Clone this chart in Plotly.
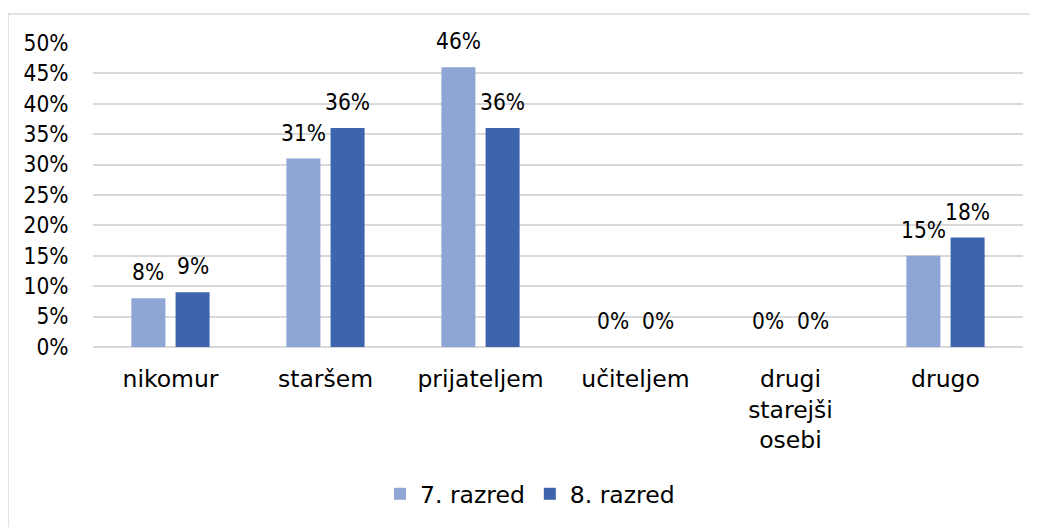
import plotly.graph_objects as go

categories = ["nikomur", "staršem", "prijateljem", "učiteljem", "drugi<br>starejši<br>osebi", "drugo"]
series_names = ["7. razred", "8. razred"]
values_7 = [0.08, 0.31, 0.46, 0.00, 0.00, 0.15]
values_8 = [0.09, 0.36, 0.36, 0.00, 0.00, 0.18]
y_ticks = [0, 0.05, 0.10, 0.15, 0.20, 0.25, 0.30, 0.35, 0.40, 0.45, 0.50]
y_ticklabels = ["0%", "5%", "10%", "15%", "20%", "25%", "30%", "35%", "40%", "45%", "50%"]

colors = ["#8FA5D5", "#3D64AD"]
TXT_FONT = "DejaVu Sans, Verdana, sans-serif"
NUM_FONT = "DejaVu Sans Condensed, DejaVu Sans, sans-serif"

# page has an 8px body margin: figure origin sits at (8, 8) in the window
OFF = 8
W, H = 1038 - OFF, 527 - OFF
ML, MT = 93 - OFF, 43 - OFF
PLOT_W, PLOT_H = 930, 304
MR = W - ML - PLOT_W
MB = H - MT - PLOT_H

fig = go.Figure()
for name, vals, col in zip(series_names, [values_7, values_8], colors):
    fig.add_trace(go.Bar(
        x=categories, y=vals, name=name,
        marker=dict(color=col, line=dict(width=0)),
    ))

BARGAP = 0.43
slot = PLOT_W / len(categories) * (1 - BARGAP) / 2
for i, vals in enumerate([values_7, values_8]):
    shift = (-0.5 + i) * slot
    for c, v in zip(categories, vals):
        fig.add_annotation(
            x=c, y=v, xref="x", yref="y", text=f"{round(v*100)}%",
            showarrow=False, xshift=shift, yshift=11, yanchor="bottom",
            font=dict(family=NUM_FONT, size=22.5, color="#000000"),
        )

fig.update_layout(
    width=W, height=H,
    margin=dict(l=ML, r=MR, t=MT, b=MB, autoexpand=False),
    paper_bgcolor="white", plot_bgcolor="white",
    barmode="group", bargap=BARGAP, bargroupgap=0.23,
    showlegend=True,
    legend=dict(orientation="h", x=(530 - 93) / PLOT_W, xanchor="center",
                y=(347 - 494) / PLOT_H, yanchor="middle",
                font=dict(family=TXT_FONT, size=23.5, color="#000000"),
                traceorder="normal"),
    font=dict(family=TXT_FONT, size=23.5, color="#000000"),
)
fig.update_xaxes(
    showgrid=False, showline=False, zeroline=False,
    ticks="outside", ticklen=11, tickcolor="rgba(0,0,0,0)",
    tickfont=dict(family=TXT_FONT, size=23.5, color="#000000"),
)
fig.update_yaxes(
    range=[0, 0.5], tickvals=y_ticks, ticktext=y_ticklabels,
    showgrid=True, gridcolor="#D9D9D9", gridwidth=1.5,
    zeroline=True, zerolinecolor="#D9D9D9", zerolinewidth=1.5,
    showline=False, ticks="outside", ticklen=19, tickcolor="rgba(0,0,0,0)",
    tickfont=dict(family=NUM_FONT, size=22.5, color="#000000"),
)
# chart-area border: only left and top edges are visible in the window
bx0 = (8 - 93) / PLOT_W
bx1 = (1100 - 93) / PLOT_W
by0 = (347 - 560) / PLOT_H
by1 = (347 - 14) / PLOT_H
fig.add_shape(type="path", xref="paper", yref="paper",
              path=f"M {bx0},{by0} L {bx0},{by1} L {bx1},{by1}",
              line=dict(color="#D9D9D9", width=1.5), layer="below")

fig.write_html("out.html")
